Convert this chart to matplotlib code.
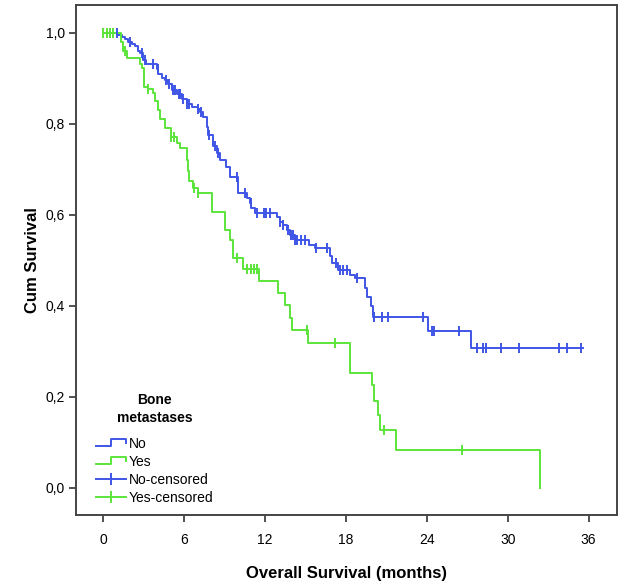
import matplotlib
matplotlib.use("Agg")
import matplotlib.pyplot as plt
from matplotlib.lines import Line2D
from matplotlib.legend_handler import HandlerBase

# Kaplan-Meier step points (time in months, survival after the drop)
no_times = [0, 1.04, 1.4, 1.6, 1.85, 2.15, 2.4, 2.6, 2.75, 2.95, 3.2, 4.0, 4.1, 4.4, 4.6,
            4.8, 5.1, 5.5, 5.85, 6.2, 6.6, 7.0, 7.2, 7.4, 7.7, 7.8, 8.15, 8.45, 8.7, 9.1,
            9.4, 10.0, 10.7, 10.9, 11.0, 11.25, 12.9, 13.1, 13.3, 13.6, 13.85, 14.2, 15.3,
            15.7, 16.8, 17.0, 17.4, 18.3, 18.7, 19.4, 19.6, 19.85, 20.0, 24.1, 27.3]
no_surv = [1.0, 0.995, 0.99, 0.985, 0.98, 0.975, 0.97, 0.96, 0.955, 0.94, 0.93, 0.92, 0.91,
           0.90, 0.895, 0.888, 0.873, 0.866, 0.855, 0.844, 0.836, 0.833, 0.825, 0.814, 0.792,
           0.774, 0.752, 0.735, 0.72, 0.704, 0.682, 0.648, 0.636, 0.625, 0.614, 0.603, 0.594,
           0.585, 0.577, 0.566, 0.555, 0.544, 0.533, 0.526, 0.51, 0.493, 0.478, 0.467, 0.46,
           0.44, 0.419, 0.40, 0.375, 0.344, 0.307]
no_end = 35.6
no_censored = [0.5, 1.0, 2.0, 2.9, 3.1, 3.7, 4.05, 4.65, 4.85, 5.2, 5.3, 5.6, 5.7, 5.9, 6.25,
               6.4, 7.05, 7.25, 7.85, 8.3, 8.5, 9.9, 10.5, 10.95, 11.4, 11.9, 12.1, 12.4, 13.15,
               13.35, 13.7, 13.9, 14.1, 14.25, 14.4, 14.7, 14.96, 15.75, 16.6, 17.3, 17.6,
               17.8, 18.1, 18.8, 20.05, 20.1, 20.7, 21.1, 23.7, 24.4, 24.5, 26.4, 27.7, 28.2,
               28.4, 29.5, 30.8, 33.8, 34.4, 35.4]

yes_times = [0, 1.3, 1.5, 1.8, 2.7, 2.85, 3.0, 3.3, 3.7, 3.85, 4.1, 4.2, 4.6, 5.0, 5.5, 5.7,
             6.2, 6.3, 6.4, 6.7, 7.0, 8.1, 9.0, 9.4, 9.6, 10.4, 11.55, 13.0, 13.5, 13.85,
             14.0, 15.2, 18.3, 19.9, 20.1, 20.4, 20.5, 21.7, 32.4]
yes_surv = [1.0, 0.98, 0.96, 0.945, 0.932, 0.923, 0.88, 0.877, 0.868, 0.85, 0.83, 0.81, 0.79,
            0.77, 0.757, 0.746, 0.72, 0.697, 0.675, 0.658, 0.648, 0.605, 0.566, 0.544, 0.504,
            0.48, 0.455, 0.428, 0.401, 0.373, 0.346, 0.318, 0.252, 0.225, 0.19, 0.16, 0.127,
            0.083, 0.0]
yes_end = 32.4
yes_censored = [0.0, 0.3, 0.5, 0.7, 1.6, 3.3, 5.05, 5.25, 6.75, 7.05, 9.9, 10.7, 11.0, 11.2,
                11.4, 15.1, 17.2, 20.8, 26.6]

blue = "#3f55e6"
green = "#5ce43a"


def surv_at(times, surv, t):
    v = surv[0]
    for ti, si in zip(times, surv):
        if ti <= t:
            v = si
    return v


class StepHandler(HandlerBase):
    def create_artists(self, legend, orig_handle, xdescent, ydescent, width, height,
                       fontsize, trans):
        x0, y0 = -xdescent, -ydescent
        xs = [x0, x0 + 0.5 * width, x0 + 0.5 * width, x0 + width, x0 + width]
        ys = [y0 + 0.15 * height, y0 + 0.15 * height, y0 + 0.85 * height,
              y0 + 0.85 * height, y0 + 0.45 * height]
        line = Line2D(xs, ys, color=orig_handle.get_color(), lw=1.4, transform=trans)
        return [line]


plt.rcParams["font.family"] = ["Liberation Sans Narrow", "Liberation Sans", "DejaVu Sans"]

fig = plt.figure(figsize=(6.4, 5.85), dpi=100)
ax = fig.add_axes([0.119, 0.12, 0.845, 0.871])

ax.step(no_times + [no_end], no_surv + [no_surv[-1]], where="post", color=blue, lw=1.4)
ax.step(yes_times + [yes_end], yes_surv + [yes_surv[-1]], where="post", color=green, lw=1.4)

ax.plot(no_censored, [surv_at(no_times, no_surv, t) for t in no_censored],
        ls="none", marker="|", ms=7, mew=1.4, color=blue)
ax.plot(yes_censored, [surv_at(yes_times, yes_surv, t) for t in yes_censored],
        ls="none", marker="|", ms=7, mew=1.4, color=green)

ax.set_xlim(-2, 38.1)
ax.set_ylim(-0.059, 1.06)
ax.set_xticks([0, 6, 12, 18, 24, 30, 36])
ax.set_xticklabels(["0", "6", "12", "18", "24", "30", "36"], fontsize=10)
yt = [0.0, 0.2, 0.4, 0.6, 0.8, 1.0]
ax.set_yticks(yt)
ax.set_yticklabels([f"{v:.1f}".replace(".", ",") for v in yt], fontsize=10)
ax.tick_params(direction="out", length=5, width=1.2, color="#333333", pad=3)
ax.tick_params(axis="x", pad=8)
for s in ax.spines.values():
    s.set_color("#444444")
    s.set_linewidth(1.4)

ax.set_xlabel("Overall Survival (months)", fontsize=12, fontweight="bold",
              family=["Liberation Sans", "DejaVu Sans"], labelpad=14)
ax.set_ylabel("Cum Survival", fontsize=12, fontweight="bold",
              family=["Liberation Sans", "DejaVu Sans"], labelpad=4)

h_no = Line2D([], [], color=blue)
h_yes = Line2D([], [], color=green)
h_noc = Line2D([], [], color=blue, lw=1.4, marker="|", ms=9, mew=1.4)
h_yesc = Line2D([], [], color=green, lw=1.4, marker="|", ms=9, mew=1.4)
leg = ax.legend([h_no, h_yes, h_noc, h_yesc], ["No", "Yes", "No-censored", "Yes-censored"],
                handler_map={h_no: StepHandler(), h_yes: StepHandler()},
                title="Bone\nmetastases", loc="lower left", bbox_to_anchor=(0.018, 0.0),
                frameon=False, fontsize=10, handlelength=2.2, handletextpad=0.2,
                labelspacing=0.3, borderaxespad=0.3)
title = leg.get_title()
title.set_fontweight("bold")
title.set_fontsize(10)
title.set_family(["Liberation Sans", "DejaVu Sans"])
title.set_multialignment("center")
title.set_linespacing(1.45)
leg._legend_box.sep = 8

fig.savefig("out.png", dpi=100)
